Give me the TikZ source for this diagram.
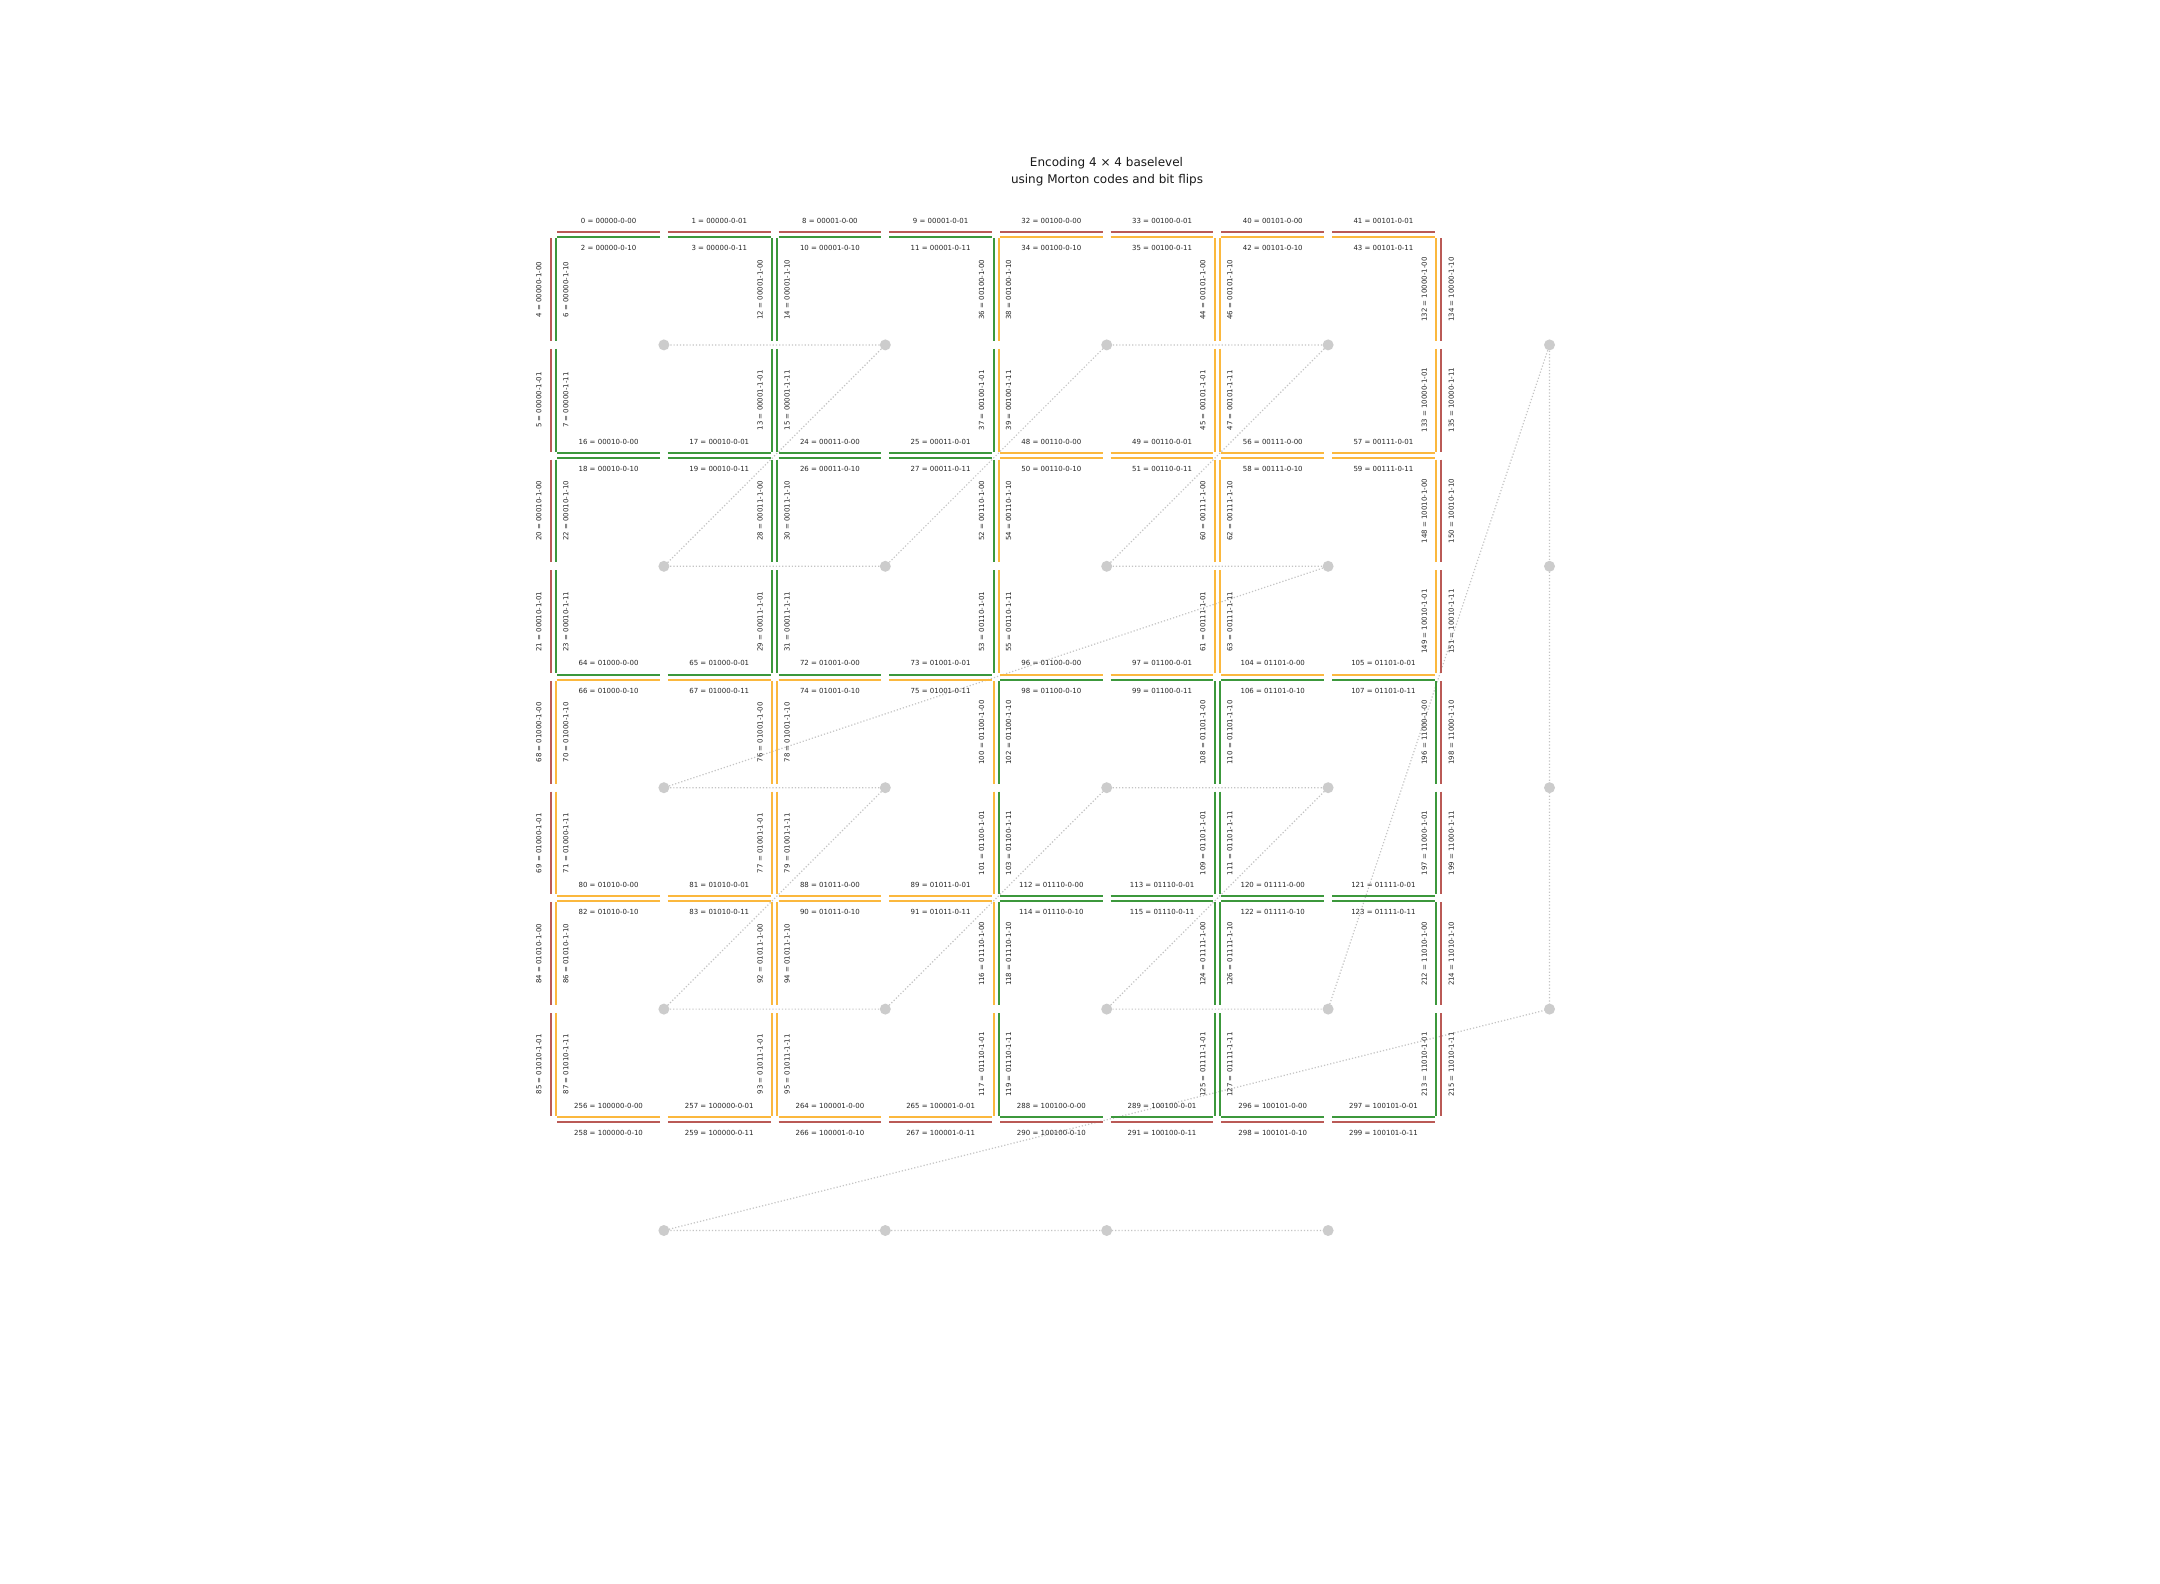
\documentclass[tikz,border=0pt]{standalone}
\usepackage{fontspec}
\setmainfont{DejaVu Sans}
\definecolor{cred}{RGB}{186,90,86}
\definecolor{cgreen}{RGB}{60,152,60}
\definecolor{corange}{RGB}{251,184,62}
\definecolor{cdot}{RGB}{204,204,204}
\definecolor{cdotline}{RGB}{196,196,196}
\newcommand\setcellcol[2]{%
  \def\thecol{cred}%
  \ifnum#1>-1 \ifnum#1<4 \ifnum#2>-1 \ifnum#2<4
    \ifnum#1<2
      \ifnum#2<2 \def\thecol{cgreen}\else\def\thecol{corange}\fi
    \else
      \ifnum#2<2 \def\thecol{corange}\else\def\thecol{cgreen}\fi
    \fi
  \fi\fi\fi\fi}
\newcommand\binstr{\ifnum\rtwo=1 1\fi\ctwo\rone\cone\rzero\czero}
\begin{document}
\begin{tikzpicture}[x=0.5pt,y=-0.5pt,
  seg/.style={line width=1pt},
  lab/.style={inner sep=0pt, font=\fontsize{3.5pt}{4pt}\selectfont, text=black!85},
  vlab/.style={lab, rotate=90},
  dot/.style={circle, fill=cdot, inner sep=0pt, minimum size=5.5pt},
  dotline/.style={draw=cdotline, line width=0.6pt, dash pattern=on 0.6pt off 1pt},
  titlelab/.style={inner sep=0pt, anchor=base, font=\fontsize{6pt}{7pt}\selectfont, text=black!90}
]
\useasboundingbox[fill=white] (0,0) rectangle (2160,1584);

% title
\node[titlelab] (t1) at (1106.5,166.7) {Encoding 4 × 4 baselevel};
\node[titlelab] (t2) at (1107,183.3) {using Morton codes and bit flips};

% cell centres (Morton curve)
\foreach \ci/\cs in {0/0,1/1,2/4,3/5,4/16}{
  \foreach \ri/\rs in {0/0,1/1,2/4,3/5,4/16}{
    \pgfmathtruncatemacro\code{\cs+2*\rs}
    \ifnum\code<48 \coordinate (p\code) at (553.2+\ci*221.4+110.7, 234.2+\ri*221.4+110.7);\fi
  }
}
\draw[dotline] (p0) -- (p1) -- (p2) -- (p3) -- (p4) -- (p5) -- (p6) -- (p7) -- (p8) -- (p9) -- (p10) -- (p11) -- (p12) -- (p13) -- (p14) -- (p15) -- (p16) -- (p18) -- (p24) -- (p26) -- (p32) -- (p33) -- (p36) -- (p37);
\foreach \q in {0,1,2,3,4,5,6,7,8,9,10,11,12,13,14,15,16,18,24,26,32,33,36,37}{
  \node[dot] (d\q) at (p\q) {};
}

% horizontal edges
\foreach \ri/\rs/\rtwo/\rone/\rzero in {0/0/0/0/0,1/1/0/0/1,2/4/0/1/0,3/5/0/1/1,4/16/1/0/0}{
  \foreach \ci/\cs/\ctwo/\cone/\czero in {0/0/0/0/0,1/1/0/0/1,2/4/0/1/0,3/5/0/1/1}{
    \pgfmathtruncatemacro\code{\cs+2*\rs}
    \pgfmathtruncatemacro\rprev{\ri-1}
    \pgfmathsetmacro\yb{234.2+\ri*221.4}
    \foreach \k in {0,1}{
      \pgfmathsetmacro\xa{553.2+\ci*221.4+\k*110.7+4}
      \pgfmathsetmacro\xm{\xa+51.35}
      \pgfmathtruncatemacro\nup{\code*8+\k}
      \pgfmathtruncatemacro\nlo{\code*8+2+\k}
      \setcellcol{\ci}{\rprev}
      \draw[seg,draw=\thecol] (\xa,\yb-2.5) -- ++(102.7,0);
      \setcellcol{\ci}{\ri}
      \draw[seg,draw=\thecol] (\xa,\yb+2.5) -- ++(102.7,0);
      \node[lab] (hu\nup) at (\xm,\yb-13.6) {\nup{} = \binstr-0-0\k};
      \node[lab] (hl\nlo) at (\xm,\yb+13.6) {\nlo{} = \binstr-0-1\k};
    }
  }
}

% vertical edges
\foreach \ci/\cs/\ctwo/\cone/\czero in {0/0/0/0/0,1/1/0/0/1,2/4/0/1/0,3/5/0/1/1,4/16/1/0/0}{
  \foreach \ri/\rs/\rtwo/\rone/\rzero in {0/0/0/0/0,1/1/0/0/1,2/4/0/1/0,3/5/0/1/1}{
    \pgfmathtruncatemacro\code{\cs+2*\rs}
    \pgfmathtruncatemacro\cprev{\ci-1}
    \pgfmathsetmacro\xb{553.2+\ci*221.4}
    \foreach \k in {0,1}{
      \pgfmathsetmacro\ya{234.2+\ri*221.4+\k*110.7+4}
      \pgfmathsetmacro\ym{\ya+51.35}
      \pgfmathtruncatemacro\nup{\code*8+4+\k}
      \pgfmathtruncatemacro\nlo{\code*8+6+\k}
      \setcellcol{\cprev}{\ri}
      \draw[seg,draw=\thecol] (\xb-2.5,\ya) -- ++(0,102.7);
      \setcellcol{\ci}{\ri}
      \draw[seg,draw=\thecol] (\xb+2.5,\ya) -- ++(0,102.7);
      \node[vlab] (vl\nup) at (\xb-14.5,\ym) {\nup{} = \binstr-1-0\k};
      \node[vlab] (vr\nlo) at (\xb+12.5,\ym) {\nlo{} = \binstr-1-1\k};
    }
  }
}
\end{tikzpicture}
\end{document}
